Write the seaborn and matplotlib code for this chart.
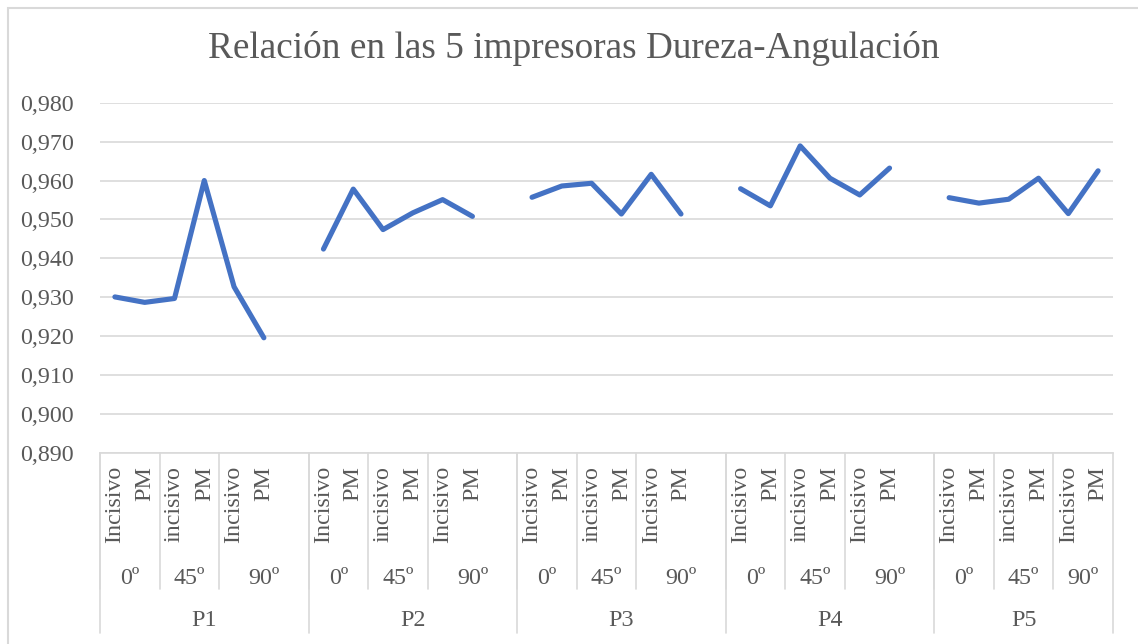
import matplotlib
matplotlib.use('Agg')
import matplotlib.pyplot as plt
from matplotlib.transforms import blended_transform_factory
from matplotlib.patches import Rectangle
import seaborn as sns
import pandas as pd
import numpy as np

# data
printers = ['P1', 'P2', 'P3', 'P4', 'P5']
angles = ['0º', '45º', '90º']
teeth = {'0º': ['Incisivo', 'PM'], '45º': ['incisivo', 'PM'], '90º': ['Incisivo', 'PM']}
p1 = [0.9301, 0.9287, 0.9297, 0.9600, 0.9327, 0.9196]
p2 = [0.9424, 0.9578, 0.9474, 0.9517, 0.9551, 0.9508]
p3 = [0.9557, 0.9586, 0.9593, 0.9514, 0.9616, 0.9514]
p4 = [0.9579, 0.9535, 0.9689, 0.9606, 0.9563, 0.9632]
p5 = [0.9556, 0.9542, 0.9552, 0.9606, 0.9515, 0.9625]
values = [p1, p2, p3, p4, p5]

yticks = np.arange(0.890, 0.9801, 0.010)

W, H = 1138, 644
BLUE = '#4472C4'
GRID = '#D9D9D9'
TXT = '#595959'

sns.set_style('white')
plt.rcParams['font.family'] = ['Liberation Serif', 'DejaVu Serif']

# build category slots: each printer takes 7 slots (6 points + blank gap), except the last
rows = []
slot = 0
group_spans = []
angle_spans = []
tooth_labels = []
for gi, (p, vals) in enumerate(zip(printers, values)):
    g_start = slot
    k = 0
    for ai, a in enumerate(angles):
        a_start = slot
        for t in teeth[a]:
            rows.append({'slot': slot, 'value': vals[k], 'printer': p})
            tooth_labels.append((slot, t))
            slot += 1
            k += 1
        if a == '90º' and gi < len(printers) - 1:
            slot += 1  # empty category
        angle_spans.append((a_start, slot, a))
    group_spans.append((g_start, slot, p))
n_slots = slot
df = pd.DataFrame(rows)

fig = plt.figure(figsize=(W / 100, H / 100), dpi=100)
ax_left, ax_right, ax_top, ax_bottom = 100, 1113, 102.7, 453
ax = fig.add_axes([ax_left / W, (H - ax_bottom) / H, (ax_right - ax_left) / W, (ax_bottom - ax_top) / H])

sns.lineplot(data=df, x='slot', y='value', units='printer', estimator=None,
             color=BLUE, linewidth=3.7, ax=ax, legend=False,
             solid_capstyle='round', solid_joinstyle='round')

ax.set_xlim(-0.5, n_slots - 0.5)
ax.set_ylim(0.890, 0.980)
ax.set_yticks(yticks)
ax.set_yticklabels([f'{v:.3f}'.replace('.', ',') for v in yticks], fontsize=17.3, color=TXT)
ax.tick_params(axis='y', length=0, pad=19)
ax.set_xticks([])
ax.set_xlabel('')
ax.set_ylabel('')
ax.grid(axis='y', color=GRID, linewidth=1.2)
ax.set_axisbelow(True)
for s in ['top', 'right', 'left']:
    ax.spines[s].set_visible(False)
ax.spines['bottom'].set_color(GRID)
ax.spines['bottom'].set_linewidth(1.2)

# multi-level category axis
tr = blended_transform_factory(ax.transData, fig.transFigure)
def fy(ypx):
    return (H - ypx) / H

for x, t in tooth_labels:
    ax.text(x, fy(466), t, transform=tr, rotation=90, ha='center', va='top',
            fontsize=17.3, color=TXT, clip_on=False)
for a0, a1, a in angle_spans:
    ax.text((a0 + a1) / 2 - 0.5, fy(578), a, transform=tr, ha='center', va='center',
            fontsize=17.3, color=TXT, clip_on=False)
    ax.plot([a0 - 0.5, a0 - 0.5], [fy(453), fy(589)], transform=tr, color=GRID, lw=1.2, clip_on=False)
for g0, g1, p in group_spans:
    ax.text((g0 + g1) / 2 - 0.5, fy(620), p, transform=tr, ha='center', va='center',
            fontsize=17.3, color=TXT, clip_on=False)
    ax.plot([g0 - 0.5, g0 - 0.5], [fy(453), fy(633)], transform=tr, color=GRID, lw=1.2, clip_on=False)
ax.plot([n_slots - 0.5, n_slots - 0.5], [fy(453), fy(633)], transform=tr, color=GRID, lw=1.2, clip_on=False)

fig.text(0.504, fy(48), 'Relación en las 5 impresoras Dureza-Angulación',
         ha='center', va='center', fontsize=26.8, color=TXT)

# chart area border
fig.patches.append(Rectangle((8 / W, -0.05), 1.1, fy(8) + 0.05, transform=fig.transFigure,
                             fill=False, edgecolor=GRID, linewidth=1.5))

fig.savefig('out.png', dpi=100, facecolor='white')
